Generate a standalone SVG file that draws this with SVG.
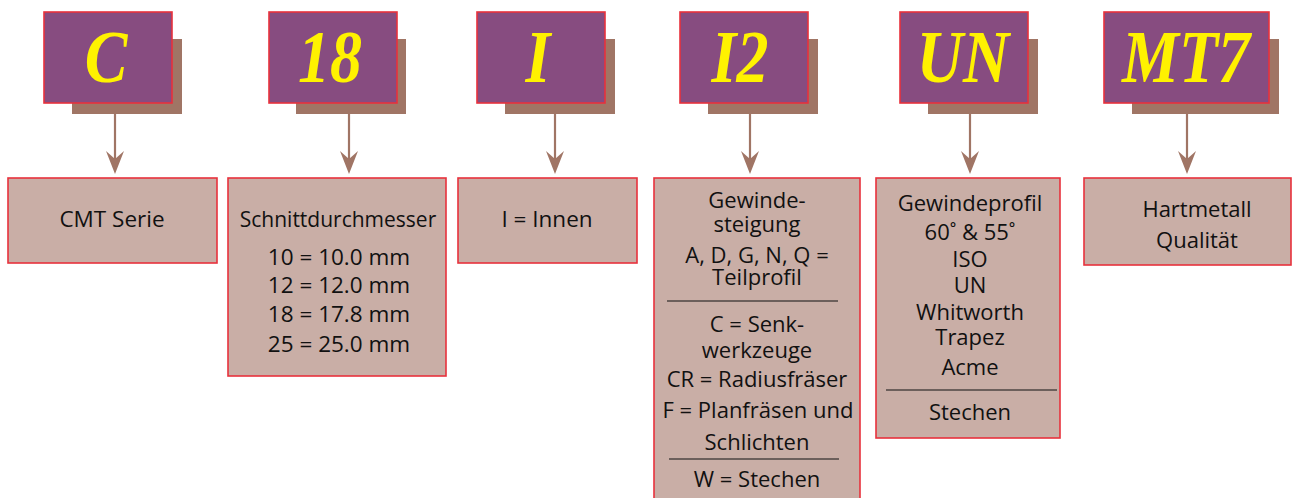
<svg xmlns="http://www.w3.org/2000/svg" width="1292" height="498" viewBox="0 0 1292 498">
<style>
.shadow{fill:#a07565}
.code{fill:#874c80;stroke:#e8313c;stroke-width:1.6}
.codetxt{font-family:"Liberation Serif","Times New Roman",serif;font-weight:bold;font-style:italic;font-size:64px;fill:#fff200;text-anchor:middle}
.desc{fill:#c9aea6;stroke:#e8313c;stroke-width:1.6}
.t{font-family:"Open Sans","Noto Sans",sans-serif;font-size:21px;fill:#111;text-anchor:middle}
.t2{font-family:"Open Sans","Noto Sans",sans-serif;font-size:22px;fill:#111;text-anchor:middle}
.t3{font-family:"Open Sans","Noto Sans",sans-serif;font-size:22.5px;fill:#111;text-anchor:middle}
.sep{stroke:#111;stroke-width:1.2}
.conn{stroke:#a07565;stroke-width:2.2;fill:none}
.head{fill:#a07565}
</style>
<defs>
<path id="ah" class="head" d="M0,22 L-9,-1 L0,7 L9,-1 Z"/>
</defs>
<g id="connectors">
<line class="conn" x1="115" y1="113" x2="115" y2="160"/><use href="#ah" x="115" y="152"/>
<line class="conn" x1="349" y1="113" x2="349" y2="160"/><use href="#ah" x="349" y="152"/>
<line class="conn" x1="555" y1="113" x2="555" y2="160"/><use href="#ah" x="555" y="152"/>
<line class="conn" x1="750" y1="113" x2="750" y2="160"/><use href="#ah" x="750" y="152"/>
<line class="conn" x1="970" y1="113" x2="970" y2="160"/><use href="#ah" x="970" y="152"/>
<line class="conn" x1="1187" y1="113" x2="1187" y2="160"/><use href="#ah" x="1187" y="152"/>
</g>
<g id="code-C">
<rect class="shadow" x="72" y="39" width="110" height="75"/>
<rect class="code" x="44" y="12" width="128" height="91"/>
<text class="codetxt" transform="translate(106,82) scale(1,1.15)">C</text>
</g>
<g id="code-18">
<rect class="shadow" x="296" y="39" width="110" height="75"/>
<rect class="code" x="269" y="12" width="128" height="91"/>
<text class="codetxt" transform="translate(330,82) scale(1,1.15)">18</text>
</g>
<g id="code-I">
<rect class="shadow" x="505" y="39" width="110" height="75"/>
<rect class="code" x="477" y="12" width="128" height="91"/>
<text class="codetxt" transform="translate(538,82) scale(1,1.15)">I</text>
</g>
<g id="code-I2">
<rect class="shadow" x="708" y="39" width="110" height="75"/>
<rect class="code" x="680" y="12" width="128" height="91"/>
<text class="codetxt" transform="translate(740,82) scale(1,1.15)">I2</text>
</g>
<g id="code-UN">
<rect class="shadow" x="928" y="39" width="110" height="75"/>
<rect class="code" x="900" y="12" width="128" height="91"/>
<text class="codetxt" transform="translate(963,82) scale(1,1.15)">UN</text>
</g>
<g id="code-MT7">
<rect class="shadow" x="1132" y="39" width="147" height="75"/>
<rect class="code" x="1104" y="12" width="165" height="91"/>
<text class="codetxt" transform="translate(1186,82) scale(1,1.15)">MT7</text>
</g>
<g id="desc-C">
<rect class="desc" x="8" y="178" width="209" height="85"/>
<text class="t3" x="112" y="227">CMT Serie</text>
</g>
<g id="desc-18">
<rect class="desc" x="228" y="178" width="218" height="198"/>
<text class="t" x="338" y="227">Schnittdurchmesser</text>
<text class="t3" x="339" y="265">10 = 10.0 mm</text>
<text class="t3" x="339" y="293">12 = 12.0 mm</text>
<text class="t3" x="339" y="322">18 = 17.8 mm</text>
<text class="t3" x="339" y="352">25 = 25.0 mm</text>
</g>
<g id="desc-I">
<rect class="desc" x="458" y="178" width="179" height="85"/>
<text class="t3" x="547" y="227">I = Innen</text>
</g>
<g id="desc-I2">
<rect class="desc" x="654" y="178" width="206" height="330"/>
<text class="t2" x="757" y="208">Gewinde-</text>
<text class="t2" x="757" y="232">steigung</text>
<text class="t2" x="757" y="263">A, D, G, N, Q =</text>
<text class="t2" x="757" y="285">Teilprofil</text>
<line class="sep" x1="667" y1="301" x2="838" y2="301"/>
<text class="t2" x="757" y="332">C = Senk-</text>
<text class="t2" x="757" y="358">werkzeuge</text>
<text class="t2" x="757" y="387">CR = Radiusfräser</text>
<text class="t2" x="758" y="418">F = Planfräsen und</text>
<text class="t2" x="757" y="450">Schlichten</text>
<line class="sep" x1="669" y1="459" x2="839" y2="459"/>
<text class="t2" x="757" y="487">W = Stechen</text>
</g>
<g id="desc-UN">
<rect class="desc" x="876" y="178" width="184" height="260"/>
<text class="t2" x="970" y="211">Gewindeprofil</text>
<text class="t2" x="970" y="240">60˚ &amp; 55˚</text>
<text class="t2" x="970" y="267">ISO</text>
<text class="t2" x="970" y="293">UN</text>
<text class="t2" x="970" y="320">Whitworth</text>
<text class="t2" x="970" y="345">Trapez</text>
<text class="t2" x="970" y="375">Acme</text>
<line class="sep" x1="886" y1="390" x2="1057" y2="390"/>
<text class="t2" x="970" y="420">Stechen</text>
</g>
<g id="desc-MT7">
<rect class="desc" x="1084" y="178" width="207" height="87"/>
<text class="t2" x="1197" y="217">Hartmetall</text>
<text class="t2" x="1197" y="248">Qualität</text>
</g>
</svg>
